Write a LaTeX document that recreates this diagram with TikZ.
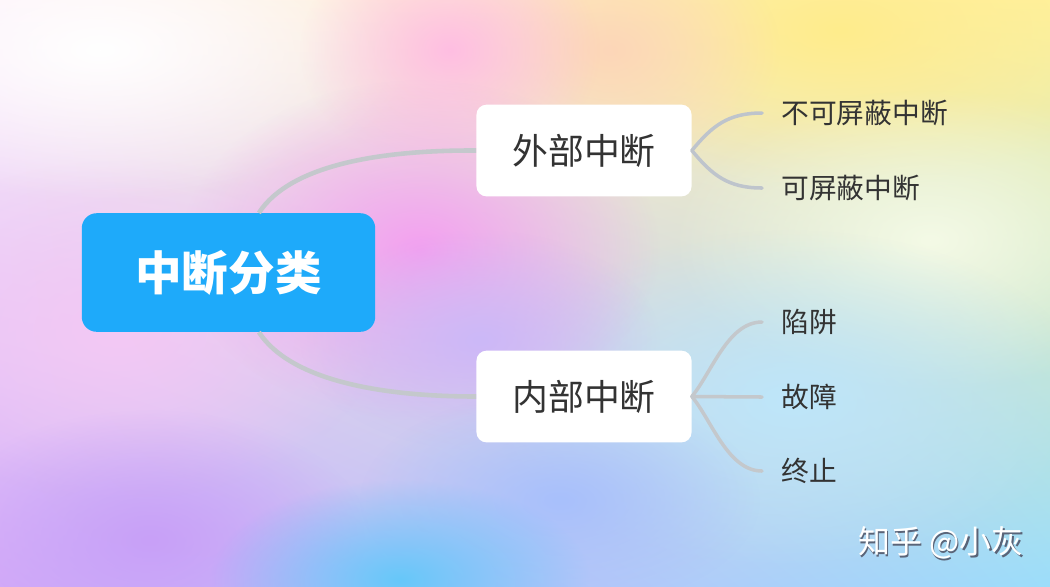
\documentclass[tikz,border=0pt]{standalone}
\usepackage{fontspec}
\setmainfont{Noto Sans CJK SC}
\usetikzlibrary{fadings,shadings}
\definecolor{rootblue}{RGB}{30,170,250}
\definecolor{txtgray}{RGB}{51,51,51}
\definecolor{trunkgray}{RGB}{196,200,204}
\definecolor{twiggray}{RGB}{190,196,204}
\definecolor{wmshadow}{RGB}{90,100,120}
\definecolor{bgul}{RGB}{253,238,248}
\definecolor{bgur}{RGB}{255,242,160}
\definecolor{bgll}{RGB}{212,172,248}
\definecolor{bglr}{RGB}{156,221,250}
\definecolor{bmagenta}{RGB}{244,160,240}
\definecolor{bpinkleft}{RGB}{244,200,244}
\definecolor{bpink}{RGB}{255,190,226}
\definecolor{byellow}{RGB}{255,236,140}
\definecolor{bpeach}{RGB}{253,214,184}
\definecolor{bpale}{RGB}{244,250,230}
\definecolor{blight}{RGB}{190,230,250}
\definecolor{bpurple}{RGB}{200,160,248}
\definecolor{blilac}{RGB}{204,184,248}
\definecolor{blav}{RGB}{168,192,252}
\definecolor{bcyan}{RGB}{102,200,250}
\tikzfading[name=blobfade, inner color=transparent!0, outer color=transparent!100]
\tikzset{
  rootbox/.style={fill=rootblue, rounded corners=8.5pt, minimum width=167pt, minimum height=67.5pt,
    text=white, font=\fontsize{26.5}{30}\selectfont\bfseries},
  branchbox/.style={fill=white, rounded corners=5.7pt, minimum width=122.4pt, minimum height=52.2pt,
    text=txtgray, font=\fontsize{20.4}{24}\selectfont},
  leaf/.style={anchor=west, inner xsep=10.8pt, inner ysep=2pt, text=txtgray, font=\fontsize{15.8}{19}\selectfont},
  trunk/.style={draw=trunkgray, line width=2.6pt},
  twig/.style={draw=twiggray, line width=2pt, line cap=round},
  blob/.style={fill=#1, path fading=blobfade},
  wmark/.style={font=\fontsize{18.2}{22}\selectfont},
}
\begin{document}
\begin{tikzpicture}[x=0.02cm, y=-0.02cm]
\useasboundingbox (0,0) rectangle (1050,586);
\shade[upper left=bgul, upper right=bgur, lower left=bgll, lower right=bglr] (0,0) rectangle (1050,586);
\fill[blob=bpinkleft] (120,330) ellipse [x radius=260, y radius=170];
\fill[blob=white] (100,50) ellipse [x radius=320, y radius=150];
\fill[blob=byellow] (840,30) ellipse [x radius=320, y radius=160];
\fill[blob=bpeach] (610,50) ellipse [x radius=170, y radius=120];
\fill[blob=bpink] (450,50) ellipse [x radius=150, y radius=120];
\fill[blob=bpale] (930,240) ellipse [x radius=260, y radius=150];
\fill[blob=blight] (790,400) ellipse [x radius=300, y radius=170];
\fill[blob=bmagenta] (420,250) ellipse [x radius=240, y radius=170];
\fill[blob=blilac] (480,340) ellipse [x radius=180, y radius=110];
\fill[blob=bpurple] (150,540) ellipse [x radius=220, y radius=130];
\fill[blob=blav] (560,500) ellipse [x radius=200, y radius=110];
\fill[blob=bcyan] (400,580) ellipse [x radius=190, y radius=100];

\node[rootbox] (root) at (228.5,272.5) {中断分类};
\node[branchbox] (outer) at (584,150.5) {外部中断};
\node[branchbox] (inner) at (584,396.5) {内部中断};
\node[leaf] (nmi) at (762,113) {不可屏蔽中断};
\node[leaf] (mi) at (762,188) {可屏蔽中断};
\node[leaf] (trap) at (762,322) {陷阱};
\node[leaf] (fault) at (762,397) {故障};
\node[leaf] (abort) at (762,471) {终止};
\node[wmark, text=wmshadow] (wmsh) at (942.5,544.5) {知乎 @小灰};
\node[wmark, text=white] (wm) at (941,543) {知乎 @小灰};

\draw[trunk] (root.63) .. controls (290,165) and (380,150) .. (outer.west);
\draw[trunk] (root.-63) .. controls (290,380) and (380,396.5) .. (inner.west);
\draw[twig] (outer.east) .. controls (712,126) and (728,113) .. (nmi.west);
\draw[twig] (outer.east) .. controls (712,175) and (728,188) .. (mi.west);
\draw[twig, draw=trunkgray] (inner.east) .. controls (712,372) and (728,322) .. (trap.west);
\draw[twig, draw=trunkgray] (inner.east) -- (fault.west);
\draw[twig, draw=trunkgray] (inner.east) .. controls (712,421) and (728,471) .. (abort.west);
\end{tikzpicture}
\end{document}
